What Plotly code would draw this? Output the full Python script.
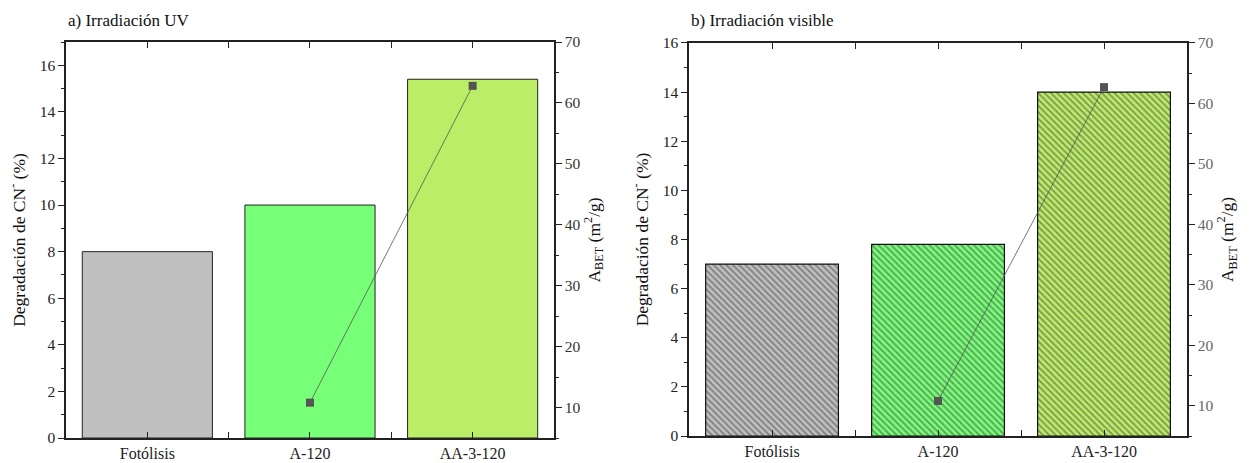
import plotly.graph_objects as go

categories = ["Fotólisis", "A-120", "AA-3-120"]
deg_uv = [8.0, 10.0, 15.4]
deg_vis = [7.0, 7.8, 14.0]
bet_cats = ["A-120", "AA-3-120"]
bet_uv = [10.8, 62.8]
bet_vis = [10.8, 62.7]
bar_colors = ["#c0c0c0", "#77ff77", "#bbee66"]
titles = ["a) Irradiación UV", "b) Irradiación visible"]

FONT = "Liberation Serif"
xi = list(range(len(categories)))
bet_x = [categories.index(c) for c in bet_cats]

fig = go.Figure()

# panel a
fig.add_trace(go.Bar(x=xi, y=deg_uv, marker=dict(color=bar_colors, line=dict(color="#222", width=1)),
                     width=0.8, xaxis="x", yaxis="y", showlegend=False))
fig.add_trace(go.Scatter(x=bet_x, y=bet_uv, mode="lines+markers", xaxis="x", yaxis="y2",
                         line=dict(color="#555", width=0.8),
                         marker=dict(symbol="square", size=8, color="#555"), showlegend=False))
# panel b
fig.add_trace(go.Bar(x=xi, y=deg_vis,
                     marker=dict(color=bar_colors, line=dict(color="#111", width=1.2),
                                 pattern=dict(shape="\\", fgcolor="#000", size=4.5, solidity=0.4)),
                     width=0.8, xaxis="x2", yaxis="y3", showlegend=False))
fig.add_trace(go.Scatter(x=bet_x, y=bet_vis, mode="lines+markers", xaxis="x2", yaxis="y4",
                         line=dict(color="#555", width=0.8),
                         marker=dict(symbol="square", size=8, color="#555"), showlegend=False))

tickfont = dict(family=FONT, size=15.5, color="#222")
titlefont = dict(family=FONT, size=17.5, color="#111")

def xaxis(dom, anchor):
    return dict(domain=dom, anchor=anchor, range=[-0.5, 2.5], tickmode="array", tickvals=xi,
                ticktext=categories, ticks="inside", ticklen=6, tickcolor="#222",
                minor=dict(tickvals=[0.5, 1.5], ticks="inside", ticklen=4, tickcolor="#222"),
                showline=True, linecolor="#222", linewidth=1.5, mirror="allticks",
                showgrid=False, zeroline=False, automargin=False,
                tickfont=dict(family=FONT, size=16, color="#222"))

def yleft(dom, anchor, rng, title):
    return dict(domain=dom, anchor=anchor, range=rng, dtick=2, ticks="outside", ticklen=6,
                tickcolor="#222", minor=dict(dtick=1, ticks="outside", ticklen=3, tickcolor="#222"),
                showline=True, linecolor="#222", linewidth=1.5, showgrid=False, zeroline=False,
                automargin=False, tickfont=tickfont,
                title=dict(text=title, font=titlefont, standoff=10))

def yright(overlay, anchor, title, tcolor):
    return dict(overlaying=overlay, anchor=anchor, side="right", range=[5, 70], dtick=10,
                ticks="outside", ticklen=6, tickcolor="#222",
                minor=dict(dtick=5, ticks="outside", ticklen=3, tickcolor="#222"),
                showline=True, linecolor="#222", linewidth=1.5, showgrid=False, zeroline=False,
                automargin=False, tickfont=dict(family=FONT, size=15.5, color=tcolor),
                title=dict(text=title, font=titlefont, standoff=8))

ytitle = "Degradación de CN<sup>-</sup> (%)"
y2title = "A<sub>BET</sub> (m<sup>2</sup>/g)"

fig.update_layout(
    width=1251, height=463, margin=dict(l=66, r=64, t=42, b=25),
    paper_bgcolor="white", plot_bgcolor="white", bargap=0.2,
    font=dict(family=FONT, color="#222"),
    xaxis=xaxis([0.0, 0.4353], "y"),
    yaxis=yleft([0.0, 1.0], "x", [0, 17], ytitle),
    yaxis2=yright("y", "x", y2title, "#333"),
    xaxis2=xaxis([0.5558, 1.0], "y3"),
    yaxis3=yleft([0.005, 0.9975], "x2", [0, 16], ytitle),
    yaxis4=yright("y3", "x2", y2title, "#666"),
    annotations=[
        dict(text=titles[0], x=0.0, y=1.055, xref="paper", yref="paper", xanchor="left",
             yanchor="middle", showarrow=False, font=dict(family=FONT, size=17, color="#111")),
        dict(text=titles[1], x=0.5558, y=1.055, xref="paper", yref="paper", xanchor="left",
             yanchor="middle", showarrow=False, font=dict(family=FONT, size=17, color="#111")),
    ],
)

fig.write_html("out.html", config={"displayModeBar": False},
               post_script="document.body.style.margin='0';document.body.style.padding='0';")
